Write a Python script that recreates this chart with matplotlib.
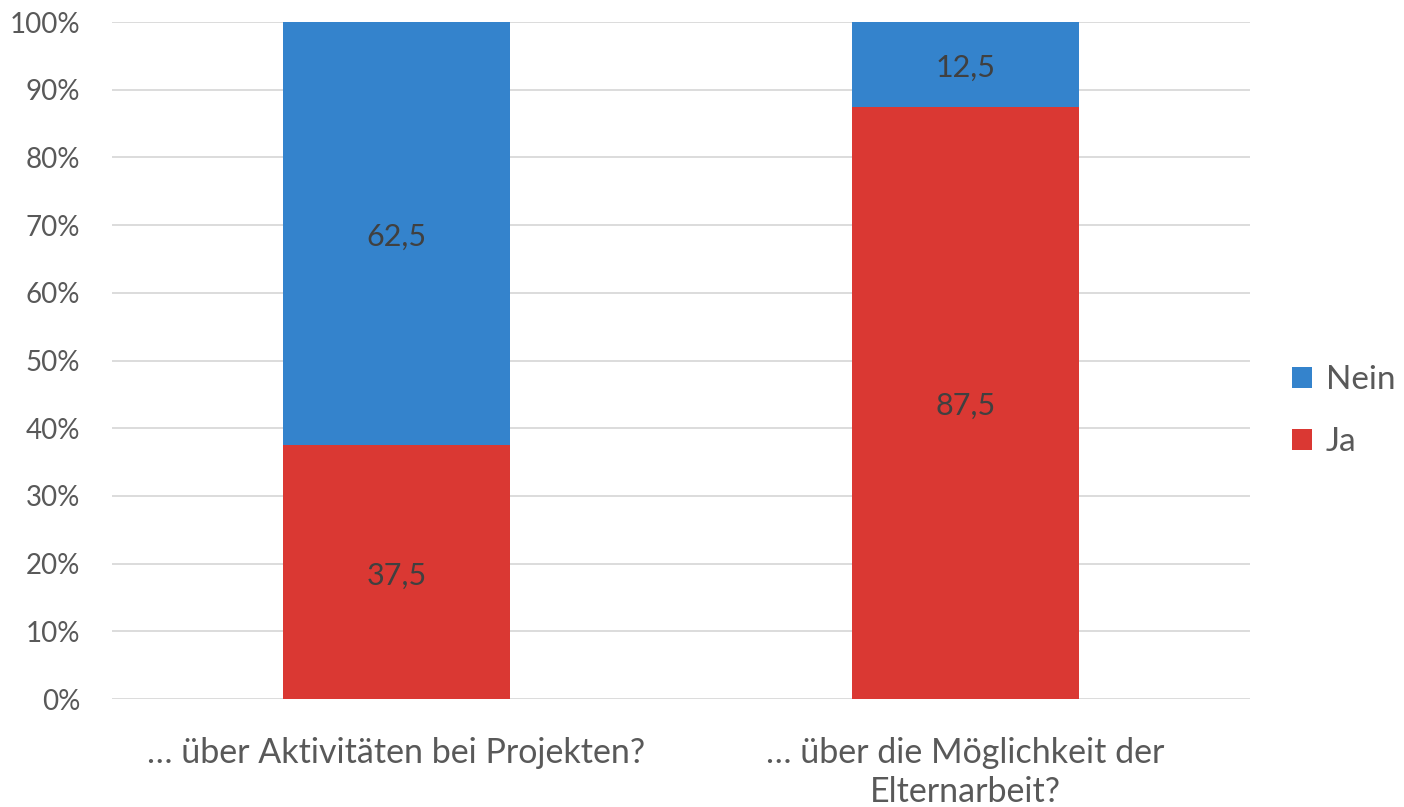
import matplotlib.pyplot as plt
import numpy as np

plt.rcParams['font.family'] = ['Lato', 'DejaVu Sans']

categories = ["… über Aktivitäten bei Projekten?", "… über die Möglichkeit der\nElternarbeit?"]
ja = [37.5, 87.5]
nein = [62.5, 12.5]

blue = "#3483CC"
red = "#DA3833"
grey = "#595959"

fig = plt.figure(figsize=(14.04, 8.07), dpi=100)
ax = fig.add_axes([0.0798, 0.1338, 0.8105, 0.8389])

x = np.arange(len(categories))
b1 = ax.bar(x, ja, width=0.4, color=red, label="Ja", zorder=3)
b2 = ax.bar(x, nein, width=0.4, bottom=ja, color=blue, label="Nein", zorder=3)

for bars, vals, base in [(b1, ja, [0, 0]), (b2, nein, ja)]:
    for rect, v, b in zip(bars, vals, base):
        ax.text(rect.get_x() + rect.get_width() / 2, b + v / 2 - 0.5, f"{v:.1f}".replace(".", ","),
                ha="center", va="center", fontsize=22, color="#404040", zorder=4)

ax.set_xlim(-0.5, 1.5)
ax.set_ylim(0, 100)
ax.set_yticks(np.arange(0, 101, 10))
ax.set_yticklabels([f"{v}%" for v in range(0, 101, 10)])
ax.set_xticks(x)
ax.set_xticklabels(categories, linespacing=1.3)
ax.tick_params(axis="both", length=0, labelcolor=grey)
ax.tick_params(axis="y", labelsize=20, pad=23)
ax.tick_params(axis="x", labelsize=24.5, pad=27)
ax.grid(axis="y", color="#D9D9D9", linewidth=1.3, zorder=0)
for s in ax.spines.values():
    s.set_visible(False)

handles, labels = ax.get_legend_handles_labels()
ax.legend(handles[::-1], labels[::-1], loc="center left", bbox_to_anchor=(1.011, 0.425),
          frameon=False, fontsize=24, labelcolor=grey, handlelength=0.6, handleheight=0.6,
          handletextpad=0.4, labelspacing=0.95)

fig.savefig("out.png", dpi=100)
